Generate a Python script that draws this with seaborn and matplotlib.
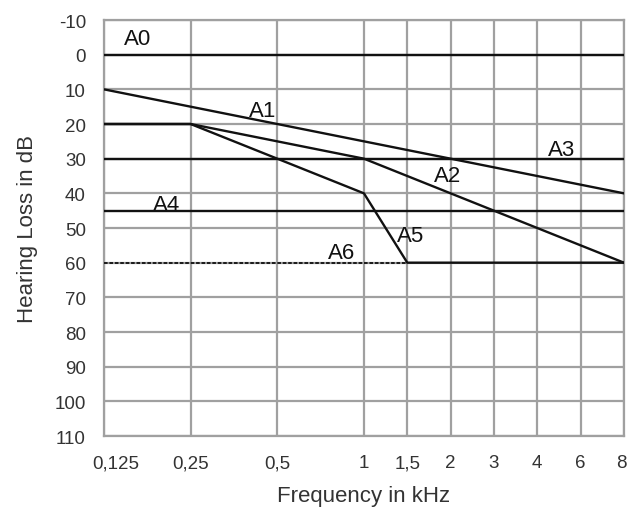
import matplotlib
matplotlib.use("Agg")
import matplotlib.pyplot as plt
import matplotlib.transforms as mtransforms
import seaborn as sns
import pandas as pd
import numpy as np

# Data
freq_ticks = [0.125, 0.25, 0.5, 1, 1.5, 2, 3, 4, 6, 8]
freq_labels = ["0,125", "0,25", "0,5", "1", "1,5", "2", "3", "4", "6", "8"]
db_ticks = list(range(-10, 111, 10))

a0_f = [0.125, 8];            a0_db = [0, 0]
a1_f = [0.125, 8];            a1_db = [10, 40]
a2_f = [0.125, 0.25, 1, 8];   a2_db = [20, 20, 30, 60]
a3_f = [0.125, 8];            a3_db = [30, 30]
a4_f = [0.125, 8];            a4_db = [45, 45]
a5_f = [0.125, 0.25, 1, 1.5, 8]; a5_db = [20, 20, 40, 60, 60]
a6_f = [0.125, 1.5];          a6_db = [60, 60]

label_names = ["A0", "A1", "A2", "A3", "A4", "A5", "A6"]
label_f = [0.174, 0.457, 1.97, 5.12, 0.215, 1.54, 0.87]
label_db = [-3, 17.7, 36.5, 29, 44.8, 53.7, 58.7]

# axis scale: octave steps, intermediate frequencies placed linearly within the octave
def fpos(f):
    f = np.asarray(f, dtype=float)
    oct_ = np.log2(f / 0.125)
    base = np.floor(oct_ + 1e-9)
    lo = 0.125 * 2 ** base
    return base + (f - lo) / lo

sns.set_theme(style="white")
plt.rcParams['font.family'] = ['Liberation Sans', 'DejaVu Sans']

fig = plt.figure(figsize=(6.3, 5.1), dpi=100)
ax = fig.add_axes([0.165, 0.1431, 0.8254, 0.8157])

series = [(a0_f, a0_db), (a1_f, a1_db), (a2_f, a2_db),
          (a3_f, a3_db), (a4_f, a4_db), (a5_f, a5_db)]
for f, d in series:
    df = pd.DataFrame({"x": fpos(f), "y": d})
    sns.lineplot(data=df, x="x", y="y", ax=ax, color="#111111", lw=1.7,
                 estimator=None, sort=False, zorder=3)
df6 = pd.DataFrame({"x": fpos(a6_f), "y": a6_db})
sns.lineplot(data=df6, x="x", y="y", ax=ax, color="#111111", lw=1.3,
             linestyle=(0, (2, 1)), estimator=None, sort=False, zorder=3)

for n, f, d in zip(label_names, label_f, label_db):
    ax.text(fpos(f), d, n, fontsize=16, color="#111111", ha="center",
            va="baseline", zorder=4)

xp = fpos(freq_ticks)
ax.set_xlim(xp[0], xp[-1])
ax.set_ylim(110, -10)
ax.set_xticks(xp)
ax.set_xticklabels(freq_labels)
ax.set_yticks(db_ticks)
ax.set_yticklabels([str(v) for v in db_ticks])
ax.grid(True, color="#a0a0a0", lw=1.6, zorder=1)
ax.set_axisbelow(True)
for s in ax.spines.values():
    s.set_color("#a0a0a0")
    s.set_linewidth(1.6)
ax.tick_params(axis="both", labelsize=13.5, colors="#333333", length=0)
ax.tick_params(axis="x", pad=13)
ax.tick_params(axis="y", pad=13)
ax.set_xlabel("Frequency in kHz", fontsize=16, color="#333333", labelpad=10)
ax.set_ylabel("Hearing Loss in dB", fontsize=16, color="#333333", labelpad=12)

xtl = ax.get_xticklabels()
xtl[0].set_transform(xtl[0].get_transform() +
                     mtransforms.ScaledTranslation(12 / 100, 0, fig.dpi_scale_trans))
xtl[-1].set_transform(xtl[-1].get_transform() +
                      mtransforms.ScaledTranslation(-3 / 100, 0, fig.dpi_scale_trans))

fig.savefig("out.png", dpi=100)
